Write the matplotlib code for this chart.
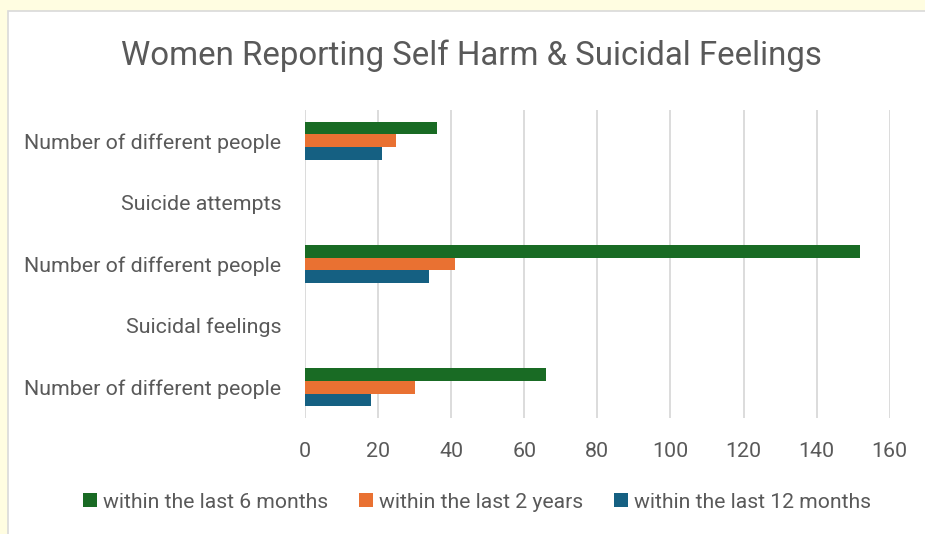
#!/usr/bin/env python

import numpy as np
import matplotlib
matplotlib.use("Agg")
import matplotlib.pyplot as plt
from matplotlib.patches import Rectangle

plt.rcParams['font.family'] = ['Roboto', 'DejaVu Sans']

# categories from bottom to top (Excel order)
categories = ["Number of different people", "Suicidal feelings",
              "Number of different people", "Suicide attempts",
              "Number of different people"]
series_names = ["within the last 6 months", "within the last 2 years",
                "within the last 12 months"]
six_months = [66, np.nan, 152, np.nan, 36]
two_years = [30, np.nan, 41, np.nan, 25]
twelve_months = [18, np.nan, 34, np.nan, 21]
x_ticks = [0, 20, 40, 60, 80, 100, 120, 140, 160]

colors = ["#196B24", "#E97132", "#156082"]
text_grey = "#595959"
grid_grey = "#D9D9D9"

W, H = 925, 534
fig = plt.figure(figsize=(W / 100, H / 100), dpi=100)
fig.patch.set_facecolor("#FFFDE1")
fig.patches.append(Rectangle((7.5 / W, -0.1), 1.2, 1.1 - 11 / H, transform=fig.transFigure,
                             facecolor="white", edgecolor=grid_grey, linewidth=1.2, zorder=-5))

ax = fig.add_axes([305 / W, 116 / H, 584.7 / W, 308 / H])
ax.set_facecolor("none")
ax.set_zorder(2)

y = np.arange(len(categories))
h = 0.205
offsets = [h, 0, -h]
for vals, off, col, name in zip([six_months, two_years, twelve_months], offsets, colors, series_names):
    ax.barh(y + off, vals, height=h, color=col, label=name, zorder=3)

ax.set_xlim(0, 160)
ax.set_ylim(-0.5, len(categories) - 0.5)
ax.set_xticks(x_ticks)
ax.set_yticks(y)
ax.set_yticklabels(categories)
ax.tick_params(axis="both", length=0, labelsize=15.4, labelcolor=text_grey)
ax.tick_params(axis="y", pad=17)
ax.tick_params(axis="x", pad=17)
ax.grid(axis="x", color=grid_grey, linewidth=1.3, zorder=0)
for s in ax.spines.values():
    s.set_visible(False)

fig.text(471.5 / W, 1 - 65 / H, "Women Reporting Self Harm & Suicidal Feelings",
         ha="center", va="baseline", fontsize=23.8, color=text_grey)

leg = fig.legend(loc="center", bbox_to_anchor=(477 / W, 1 - 502 / H), ncol=3, frameon=False,
                 fontsize=15.2, handlelength=0.66, handleheight=0.66, handletextpad=0.28,
                 columnspacing=1.45, labelcolor=text_grey)

plt.savefig("out.png", dpi=100, facecolor=fig.get_facecolor())
